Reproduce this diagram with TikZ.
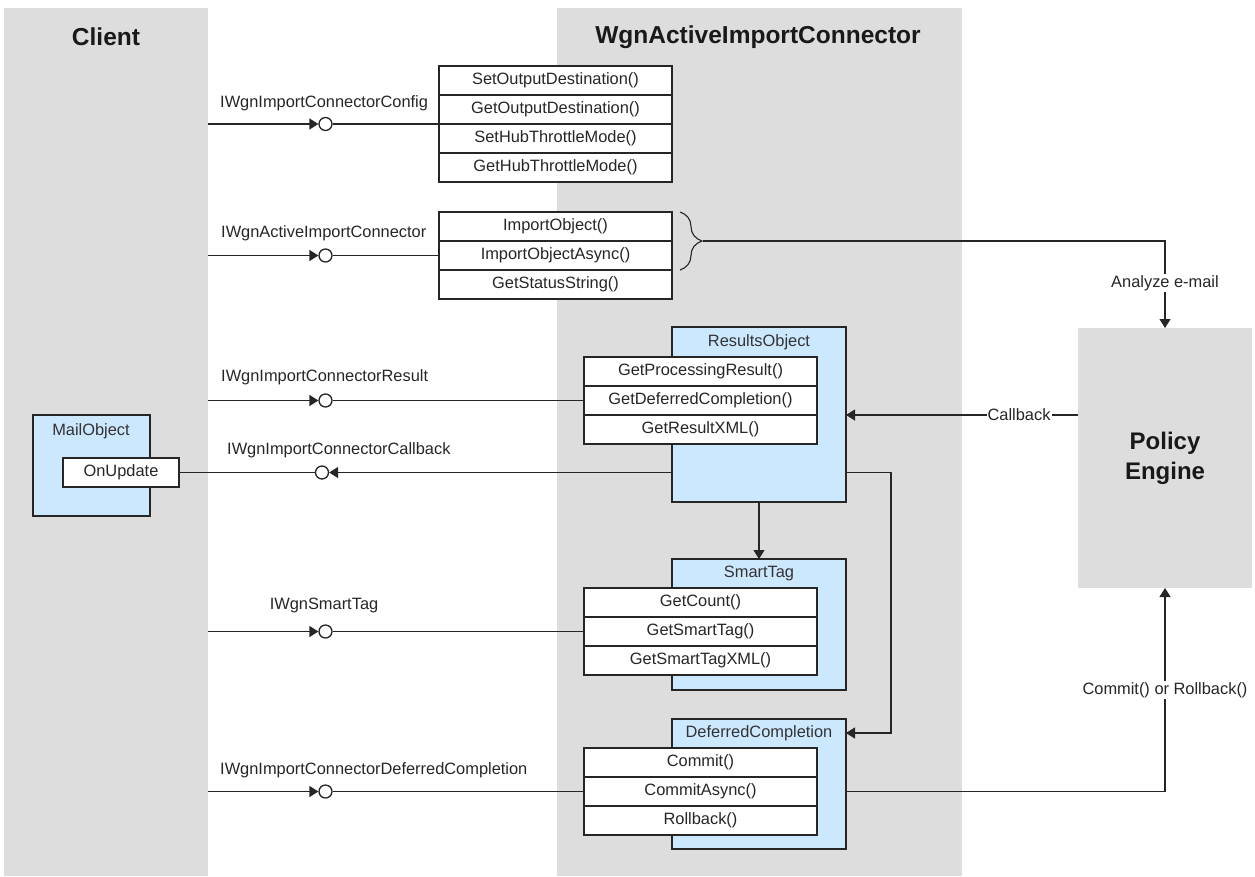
\documentclass[tikz,border=0pt]{standalone}
\usepackage{fontspec}
\setmainfont{Liberation Sans}
\usetikzlibrary{arrows.meta,decorations.pathreplacing,calc}
\definecolor{lanegray}{HTML}{DDDDDD}
\definecolor{objblue}{HTML}{CCE8FF}
\definecolor{ink}{HTML}{262626}
\begin{document}
\begin{tikzpicture}[x=1pt,y=-1pt,
  every node/.style={font=\fontsize{16.4}{19}\selectfont, text=ink},
  lane/.style={fill=lanegray, draw=none, minimum height=868pt, inner sep=0pt, anchor=north west},
  header/.style={font=\bfseries\fontsize{24.5}{28}\selectfont, text=black!90},
  method/.style={draw=ink, fill=white, line width=1.3pt, minimum width=233pt, minimum height=29pt, inner sep=0pt, outer sep=0pt, anchor=north west},
  objbox/.style={draw=ink, fill=objblue, line width=1.3pt, minimum width=174pt, inner sep=0pt, outer sep=0pt, anchor=north west},
  objtitle/.style={text=black!80},
  lolli/.style={circle, draw=ink, fill=white, minimum size=13pt, inner sep=0pt, line width=1.3pt},
  conn/.style={draw=ink, line width=1.3pt},
  tip/.style={-{Triangle[length=9pt,width=11pt]}},
  ilabel/.style={anchor=west, inner sep=0pt},
  onlabel/.style={fill=white, inner sep=1.5pt}
]
\useasboundingbox (0,0) rectangle (1255,876);
% lanes
\node[lane, minimum width=204pt] (clientlane) at (4,8) {};
\node[lane, minimum width=405pt] (wgnlane) at (557,8) {};
\node[header] (hclient) at (106,37) {Client};
\node[header] (hwgn) at (758,37) {WgnActiveImportConnector};
% policy engine
\node[fill=lanegray, minimum width=174pt, minimum height=260pt, inner sep=0pt, outer sep=0pt, anchor=north west,
      align=center, font=\bfseries\fontsize{24}{30}\selectfont, text=black!90] (policy) at (1078,328) {Policy\\Engine};
% config table
\node[method] (cfg1) at (439,66) {SetOutputDestination()};
\node[method] (cfg2) at (439,95) {GetOutputDestination()};
\node[method] (cfg3) at (439,124) {SetHubThrottleMode()};
\node[method] (cfg4) at (439,153) {GetHubThrottleMode()};
% active import table
\node[method] (act1) at (439,212) {ImportObject()};
\node[method] (act2) at (439,241) {ImportObjectAsync()};
\node[method] (act3) at (439,270) {GetStatusString()};
% results object
\node[objbox, minimum height=175pt] (results) at (672,327) {};
\node[objtitle] (rtitle) at (759,342) {ResultsObject};
\node[method] (ro1) at (584,357) {GetProcessingResult()};
\node[method] (ro2) at (584,386) {GetDeferredCompletion()};
\node[method] (ro3) at (584,415) {GetResultXML()};
% smart tag
\node[objbox, minimum height=131pt] (smart) at (672,559) {};
\node[objtitle] (stitle) at (759,573) {SmartTag};
\node[method] (st1) at (584,588) {GetCount()};
\node[method] (st2) at (584,617) {GetSmartTag()};
\node[method] (st3) at (584,646) {GetSmartTagXML()};
% deferred completion
\node[objbox, minimum height=130pt] (deferred) at (672,719) {};
\node[objtitle] (dtitle) at (759,733) {DeferredCompletion};
\node[method] (dc1) at (584,748) {Commit()};
\node[method] (dc2) at (584,777) {CommitAsync()};
\node[method] (dc3) at (584,806) {Rollback()};
% mail object
\node[objbox, minimum width=117pt, minimum height=101pt] (mail) at (33,415) {};
\node[objtitle] (mtitle) at (91,431) {MailObject};
\node[method, minimum width=116pt] (onupd) at (63,458) {OnUpdate};
% lollipops
\node[lolli] (lcfg) at (325.5,124) {};
\node[lolli] (lact) at (325.5,255.5) {};
\node[lolli] (lres) at (325.5,400.5) {};
\node[lolli] (lcb) at (322,472.5) {};
\node[lolli] (lst) at (325.5,631.5) {};
\node[lolli] (ldc) at (325.5,791.5) {};
% interface labels
\node[ilabel] at (220,103) {IWgnImportConnectorConfig};
\node[ilabel] at (221,233) {IWgnActiveImportConnector};
\node[ilabel] at (221,377) {IWgnImportConnectorResult};
\node[ilabel] at (227,450) {IWgnImportConnectorCallback};
\node[inner sep=0pt] at (324,605) {IWgnSmartTag};
\node[ilabel] at (220,770) {IWgnImportConnectorDeferredCompletion};
% interface connectors
\draw[conn,tip] (clientlane.east |- lcfg) -- (lcfg);
\draw[conn] (lcfg) -- (lcfg -| cfg2.west);
\draw[conn,tip] (clientlane.east |- lact) -- (lact);
\draw[conn] (lact) -- (lact -| act2.west);
\draw[conn,tip] (clientlane.east |- lres) -- (lres);
\draw[conn] (lres) -- (lres -| ro2.west);
\draw[conn,tip] (results.west |- onupd.east) -- (lcb);
\draw[conn] (lcb) -- (onupd.east);
\draw[conn,tip] (clientlane.east |- lst) -- (lst);
\draw[conn] (lst) -- (lst -| st2.west);
\draw[conn,tip] (clientlane.east |- ldc) -- (ldc);
\draw[conn] (ldc) -- (ldc -| dc2.west);
% internal connectors
\draw[conn,tip] (results.south) -- (smart.north);
\draw[conn,tip] (results.east |- onupd.east) -- ++(45,0) |- (deferred.east |- dtitle);
% brace and analyze
\draw[draw=ink, line width=1.1pt, decorate, decoration={brace, amplitude=22pt}] (680,212) -- (680,270);
\coordinate (bt) at (703,241);
\draw[conn,tip] (bt) -| node[pos=0.74, onlabel] {Analyze e-mail} (policy.north);
% callback
\draw[conn,tip] (policy.west |- ro3.north) -- node[pos=0.254, fill=white, inner sep=1pt] {Callback} (results.east |- ro3.north);
% commit
\draw[conn,tip] (deferred.east |- ldc) -| node[pos=0.75, onlabel] {Commit() or Rollback()} (policy.south);
\end{tikzpicture}
\end{document}
